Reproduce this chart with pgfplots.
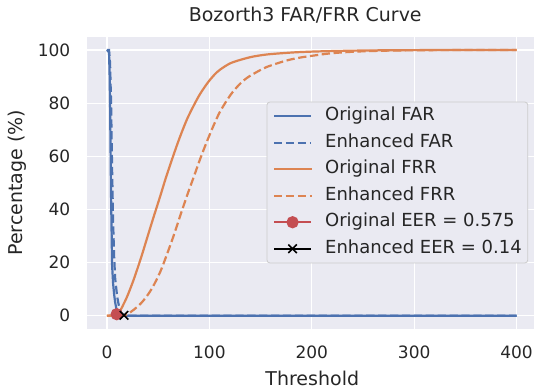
\documentclass[border=0pt]{standalone}
\usepackage{fontspec}
\setmainfont{DejaVu Sans}
\usepackage{pgfplots}
\pgfplotsset{compat=1.18}
\definecolor{bgc}{HTML}{EAEAF2}
\definecolor{txt}{HTML}{262626}
\definecolor{sbblue}{HTML}{4C72B0}
\definecolor{sborange}{HTML}{DD8452}
\definecolor{sbred}{HTML}{C44E52}
\definecolor{legdraw}{HTML}{CCCCCC}
\begin{document}
\begin{tikzpicture}
\useasboundingbox (0,0) rectangle (534bp,392bp);
\begin{axis}[
  at={(86.5bp,63bp)}, anchor=south west,
  scale only axis, width=447.5bp, height=292.3bp,
  xmin=-20, xmax=417, ymin=-5, ymax=105,
  xtick={0,100,200,300,400}, ytick={0,20,40,60,80,100},
  grid=major, major grid style={white, line width=1.2bp},
  axis background/.style={fill=bgc},
  axis line style={draw=none},
  major tick length=0pt,
  /pgf/number format/assume math mode=true,
  tick label style={font=\fontsize{17bp}{20bp}\selectfont, text=txt},
  xticklabel style={inner sep=0pt, anchor=north, yshift=-17bp},
  yticklabel style={inner sep=0pt, anchor=east, xshift=-16bp},
  title={Bozorth3 FAR/FRR Curve},
  title style={font=\fontsize{19bp}{22bp}\selectfont, text=txt, at={(axis description cs:0.5,1)}, anchor=base, yshift=9.4bp, xshift=-5bp},
  xlabel={Threshold},
  xlabel style={font=\fontsize{19bp}{22bp}\selectfont, text=txt, at={(axis description cs:0.5,0)}, anchor=base, yshift=-56bp, xshift=2bp},
  ylabel={Percentage (\%)},
  ylabel style={font=\fontsize{19bp}{22bp}\selectfont, text=txt, at={(axis description cs:-0.1441,0.5)}, anchor=base},
  legend image code/.code={
    \draw[mark repeat=2,mark phase=2,#1] plot coordinates {(0bp,0bp) (18.5bp,0bp) (37bp,0bp)};
  },
  legend cell align=left,
  legend style={at={(0.987,0.778)}, anchor=north east, fill=bgc, draw=legdraw, line width=0.8bp,
    rounded corners=3bp, inner sep=6bp, row sep=10bp, column sep=13bp,
    font=\fontsize{18bp}{21bp}\selectfont, text=txt,
    nodes={inner sep=0pt, text height=13bp, text depth=3.5bp}},
]
\addplot[sbblue, line width=2.2bp] coordinates {
(0,100) (1,99.6) (2,99) (2.5,92) (3,80) (4,45) (5,19) (6,12) (7,8) (8,5) (9,3) (10,0.5) (12,0.1) (14,0) (400,0)};
\addlegendentry{Original FAR}
\addplot[sbblue, line width=2.2bp, dash pattern=on 8.3bp off 3.6bp] coordinates {
(0,100) (2,100) (3,95) (4,80) (5,55) (6,35) (7,22) (8,14) (10,7) (12,3) (14,1) (16.6,0.14) (20,0) (400,0)};
\addlegendentry{Enhanced FAR}
\addplot[sborange, line width=2.2bp, smooth] coordinates {
(0,0) (5,0.15) (9.5,0.575) (13,2) (16,4.2) (20,7.5) (26,13.5) (33,21.5) (39,29) (45,36.5) (52,45) (58,52.5) (65,60.5) (71,67) (78,73.8) (85,79.3) (91,83.5) (99,88) (107,91.5) (115,93.8) (123,95.4) (140,97.3) (156,98.3) (175,98.9) (188,99.2) (210,99.5) (250,99.8) (300,99.95) (400,100)};
\addlegendentry{Original FRR}
\addplot[sborange, line width=2.2bp, dash pattern=on 8.3bp off 3.6bp, smooth] coordinates {
(0,0) (10,0) (16.6,0.14) (20,0.6) (26,2.2) (33,4.6) (39,7.4) (45,11) (52,16.5) (58,22.5) (65,30) (71,37) (78,45) (85,52.5) (91,59) (97,65) (104,71.5) (110,76.5) (117,81) (123,84.3) (130,87.3) (136,89.3) (143,91) (156,93.6) (175,96) (188,97.1) (200,97.8) (220,98.8) (250,99.5) (300,99.9) (400,100)};
\addlegendentry{Enhanced FRR}
\addplot[sbred, line width=2.2bp, mark=*, mark size=5bp, mark options={fill=sbred, draw=sbred}] coordinates {(9.5,0.575)};
\addlegendentry{Original EER = 0.575}
\addplot[black, line width=2.2bp, mark=x, mark size=6bp, mark options={line width=1.6bp}] coordinates {(16.6,0.14)};
\addlegendentry{Enhanced EER = 0.14}
\end{axis}
\end{tikzpicture}
\end{document}
